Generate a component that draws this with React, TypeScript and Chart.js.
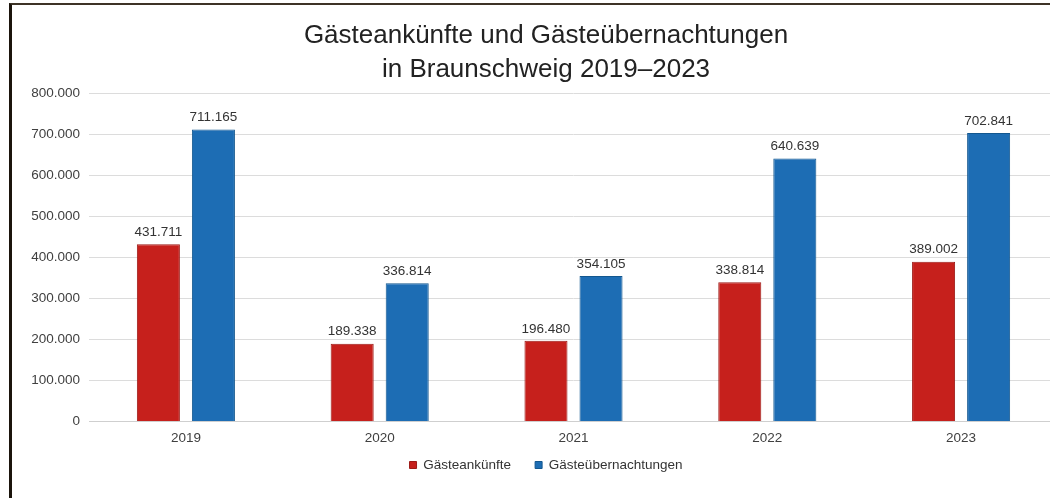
import React, { useEffect, useRef } from "react";
import { Chart, registerables } from "chart.js";

Chart.register(...registerables);

const categories = ["2019", "2020", "2021", "2022", "2023"];
const seriesNames = ["Gästeankünfte", "Gästeübernachtungen"];
const arrivals = [431711, 189338, 196480, 338814, 389002];
const overnights = [711165, 336814, 354105, 640639, 702841];
const yTicks = [0, 100000, 200000, 300000, 400000, 500000, 600000, 700000, 800000];
const titleLines = ["Gästeankünfte und Gästeübernachtungen", "in Braunschweig 2019–2023"];

const FONT = '"Liberation Sans", Arial, Helvetica, sans-serif';

function fmt(v: number): string {
  return String(Math.round(v)).replace(/\B(?=(\d{3})+(?!\d))/g, ".");
}

const valueLabels = {
  id: "valueLabels",
  afterDatasetsDraw(chart: any) {
    const ctx = chart.ctx;
    ctx.save();
    ctx.font = `13.5px ${FONT}`;
    ctx.fillStyle = "#333333";
    ctx.textAlign = "center";
    ctx.textBaseline = "middle";
    chart.data.datasets.forEach((ds: any, i: number) => {
      const meta = chart.getDatasetMeta(i);
      meta.data.forEach((el: any, j: number) => {
        ctx.fillText(fmt(ds.data[j]), el.x, el.y - 12);
      });
    });
    ctx.restore();
  },
};

// axis boxes are sized tightly for layout, so let their labels draw outside them
const noLabelClip = {
  id: "noLabelClip",
  beforeDraw(chart: any) {
    Object.values(chart.scales).forEach((s: any) => {
      s._computeLabelArea = () => undefined;
    });
  },
};

export default function App() {
  const canvasRef = useRef<HTMLCanvasElement | null>(null);

  useEffect(() => {
    if (!canvasRef.current) return;
    const tickFont = { size: 13.5, family: FONT };
    const chart = new Chart(canvasRef.current, {
      type: "bar",
      data: {
        labels: categories,
        datasets: [
          {
            label: seriesNames[0],
            data: arrivals,
            backgroundColor: "#c6201c",
            borderColor: "#9c1a16",
            borderWidth: 1,
            categoryPercentage: 0.568,
            barPercentage: 0.782,
          },
          {
            label: seriesNames[1],
            data: overnights,
            backgroundColor: "#1d6db4",
            borderColor: "#13578f",
            borderWidth: 1,
            categoryPercentage: 0.568,
            barPercentage: 0.782,
          },
        ],
      },
      options: {
        responsive: false,
        animation: false,
        layout: { padding: { left: 34, right: 0, top: 0, bottom: 16.25 } },
        plugins: {
          title: {
            display: true,
            text: titleLines,
            color: "#222222",
            font: { size: 26, family: FONT, weight: "normal", lineHeight: 1.3 },
            padding: { top: 19, bottom: 6.4 },
          },
          legend: {
            position: "bottom",
            labels: {
              boxWidth: 7,
              boxHeight: 7,
              padding: 24,
              color: "#333333",
              font: { size: 13.5, family: FONT },
            },
          },
          tooltip: { enabled: false },
        },
        scales: {
          x: {
            grid: { display: false, drawTicks: false },
            border: { display: true, color: "#cfcfcf" },
            ticks: { padding: 9, color: "#404040", font: tickFont },
            afterFit: (s: any) => {
              s.height = 12.75;
            },
          },
          y: {
            min: 0,
            max: 800000,
            grid: { color: "#dcdcdc", drawTicks: false },
            border: { display: false },
            ticks: {
              padding: 9,
              color: "#404040",
              font: tickFont,
              callback: (v: any) => fmt(Number(v)),
            },
            afterBuildTicks: (s: any) => {
              s.ticks = yTicks.map((v) => ({ value: v }));
            },
            afterFit: (s: any) => {
              s.width = 55;
            },
          },
        },
      },
      plugins: [valueLabels, noLabelClip],
    } as any);
    return () => chart.destroy();
  }, []);

  return (
    <div
      style={{
        position: "fixed",
        left: 0,
        top: 0,
        width: 1050,
        height: 498,
        overflow: "hidden",
        background: "#ffffff",
      }}
    >
      <canvas
        ref={canvasRef}
        width={1058}
        height={498}
        style={{ position: "absolute", left: 0, top: 0, width: 1058, height: 498 }}
      />
      <div
        style={{
          position: "absolute",
          left: 9,
          top: 3,
          width: 1050,
          height: 500,
          borderTop: "2px solid #3d3326",
          borderLeft: "3px solid #1b140c",
          pointerEvents: "none",
        }}
      />
    </div>
  );
}
